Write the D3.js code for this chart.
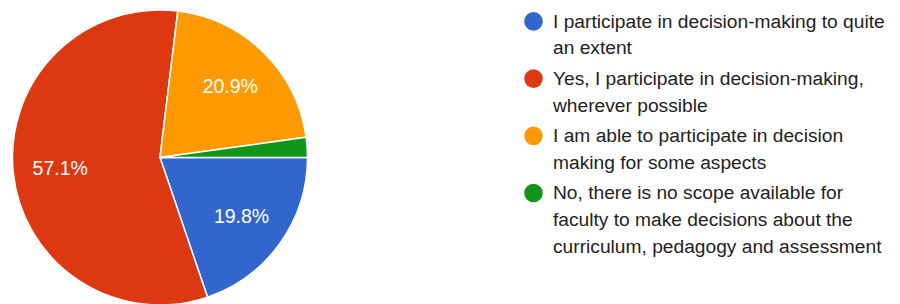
<!DOCTYPE html>
<html>
<head>
<meta charset="utf-8">
<script src="https://cdn.jsdelivr.net/npm/d3@7"></script>
<style>
  html, body { margin: 0; padding: 0; background: #fff; }
  svg { display: block; font-family: "Liberation Sans", Arial, sans-serif; }
</style>
</head>
<body>
<svg id="chart" width="900" height="304"></svg>
<script>
// answers, in the order the slices run clockwise from 3 o'clock
const categories = [
  "I participate in decision-making to quite an extent",
  "Yes, I participate in decision-making, wherever possible",
  "I am able to participate in decision making for some aspects",
  "No, there is no scope available for faculty to make decisions about the curriculum, pedagogy and assessment"
];
const responses = [18, 52, 19, 2];   // gives 19.8 / 57.1 / 20.9 / 2.2 %
const colours   = ["#3366cc", "#dc3912", "#ff9900", "#109618"];

const svg = d3.select("#chart");

// ---- pie ----
const cx = 160, cy = 157.5, radius = 147.5;
const total = d3.sum(responses);

const pie = d3.pie()
  .sort(null)
  .startAngle(Math.PI / 2)
  .endAngle(Math.PI / 2 + 2 * Math.PI);

const arc = d3.arc().innerRadius(0).outerRadius(radius);
const labelArc = d3.arc().innerRadius(radius * 0.68).outerRadius(radius * 0.68);

const g = svg.append("g").attr("transform", `translate(${cx},${cy})`);
const arcs = pie(responses);

g.selectAll("path")
  .data(arcs)
  .join("path")
  .attr("d", arc)
  .attr("fill", (d, i) => colours[i])
  .attr("stroke", "#fff")
  .attr("stroke-width", 1.5);

// only slices big enough get a % label
g.selectAll("text")
  .data(arcs.filter(d => d.value / total > 0.05))
  .join("text")
  .attr("transform", d => `translate(${labelArc.centroid(d)})`)
  .attr("text-anchor", "middle")
  .attr("dy", "0.36em")
  .attr("fill", "#fff")
  .attr("font-size", 19.5)
  .text(d => d3.format(".1%")(d.value / total));

// ---- legend ----
const legX = 533.5, textX = 553, maxW = 345;
const lineH = 26.6, itemGap = 4, firstBase = 27.7;

const leg = svg.append("g");
let base = firstBase;
categories.forEach((label, i) => {
  leg.append("circle")
    .attr("cx", legX)
    .attr("cy", base - 6.3)
    .attr("r", 9.3)
    .attr("fill", colours[i]);

  const t = leg.append("text")
    .attr("x", textX)
    .attr("y", base)
    .attr("font-size", 19.2)
    .attr("fill", "#222");

  // simple word wrap
  const words = label.split(" ");
  let line = [], n = 0;
  let tspan = t.append("tspan").attr("x", textX).attr("y", base);
  words.forEach(w => {
    line.push(w);
    tspan.text(line.join(" "));
    if (tspan.node().getComputedTextLength() > maxW && line.length > 1) {
      line.pop();
      tspan.text(line.join(" "));
      line = [w];
      n++;
      tspan = t.append("tspan").attr("x", textX).attr("y", base + n * lineH).text(w);
    }
  });
  base += (n + 1) * lineH + itemGap;
});
</script>
</body>
</html>
